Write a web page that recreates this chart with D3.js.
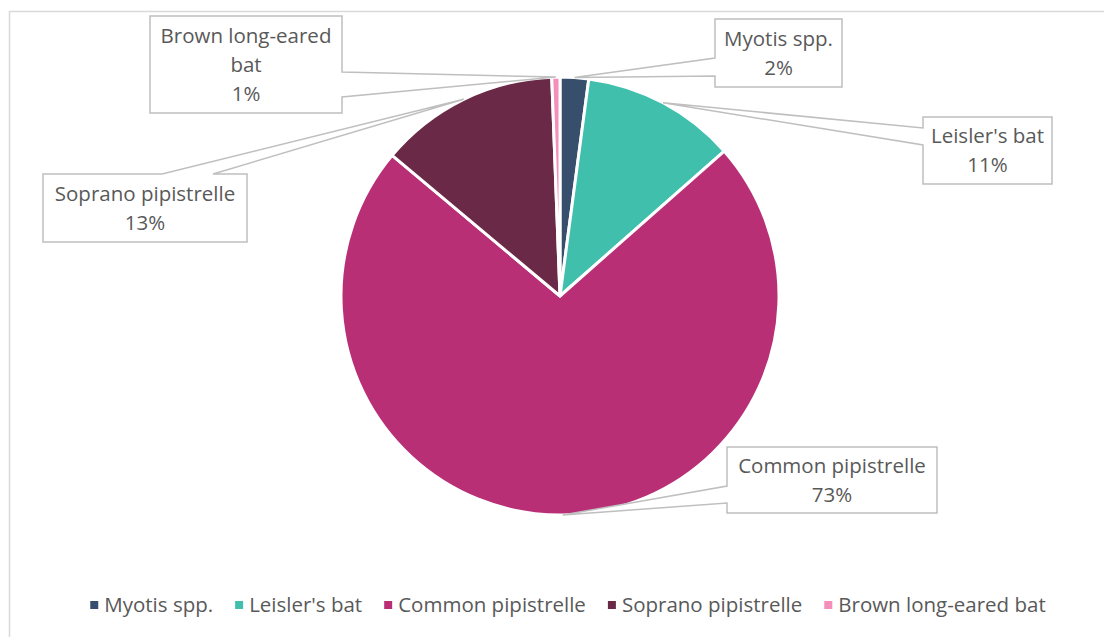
<!DOCTYPE html>
<html>
<head>
<meta charset="utf-8">
<script src="https://cdn.jsdelivr.net/npm/d3@7"></script>
<style>
  html, body { margin: 0; padding: 0; background: #fff; }
  svg { display: block; font-family: "Open Sans", "Noto Sans", sans-serif; }
</style>
</head>
<body>
<svg width="1104" height="637"></svg>
<script>
(() => {

    // species shares (percent of recorded passes)
    const species = ['Myotis spp.', "Leisler's bat", 'Common pipistrelle', 'Soprano pipistrelle', 'Brown long-eared bat'];
    const shares = [2.1, 11.4, 72.6, 13.3, 0.6];
    const colors = ['#374f6d', '#40bfad', '#b82f76', '#6a2a47', '#f38fba'];

    // callout boxes: [x, y, w, h], label split into lines
    const labelLines = [['Myotis spp.'], ["Leisler's bat"], ['Common pipistrelle'], ['Soprano pipistrelle'], ['Brown long-eared', 'bat']];
    const boxes = [
        {x: 715, y: 19, w: 127, h: 68, side: 'left', p: [58, 76]},
        {x: 923, y: 117, w: 129, h: 67, side: 'left', p: [128, 145]},
        {x: 727, y: 447, w: 210, h: 66, side: 'left', p: [486, 503]},
        {x: 43, y: 174, w: 204, h: 68, side: 'top', p: [162, 213]},
        {x: 150, y: 16, w: 192, h: 97, side: 'right', p: [72, 97]}
    ];

    const svg = d3.select('svg');
    const cx = 560, cy = 296, radius = 219;
    const textColor = '#595959';
    const fontSize = 20.5;

    svg.append('rect')
        .attr('x', 9.5).attr('y', 11.5)
        .attr('width', 1110).attr('height', 640)
        .attr('fill', 'none')
        .attr('stroke', '#d9d9d9')
        .attr('stroke-width', 1.5);

    const data = species.map((s, i) => ({name: s, value: shares[i], color: colors[i], i}));
    const total = d3.sum(shares);

    const pie = d3.pie().sort(null).value(d => d.value);
    const arcs = pie(data);
    const arc = d3.arc().innerRadius(0).outerRadius(radius);

    const g = svg.append('g').attr('transform', `translate(${cx},${cy})`);
    g.selectAll('path')
        .data(arcs)
        .enter().append('path')
        .attr('d', arc)
        .attr('fill', d => d.data.color)
        .attr('stroke', '#fff')
        .attr('stroke-width', 3)
        .attr('stroke-linejoin', 'round');

    // callouts with a pointer towards the slice's outer edge
    const callouts = svg.append('g');
    arcs.forEach((a, i) => {
        const b = boxes[i];
        const mid = (a.startAngle + a.endAngle) / 2;
        const tx = cx + radius * Math.sin(mid);
        const ty = cy - radius * Math.cos(mid);
        const x0 = b.x, y0 = b.y, x1 = b.x + b.w, y1 = b.y + b.h;
        let pts;
        if (b.side === 'left') {
            pts = [[x0, y0], [x1, y0], [x1, y1], [x0, y1], [x0, b.p[1]], [tx, ty], [x0, b.p[0]]];
        } else if (b.side === 'right') {
            pts = [[x0, y0], [x1, y0], [x1, b.p[0]], [tx, ty], [x1, b.p[1]], [x1, y1], [x0, y1]];
        } else {
            pts = [[x0, y0], [b.p[0], y0], [tx, ty], [b.p[1], y0], [x1, y0], [x1, y1], [x0, y1]];
        }
        callouts.append('path')
            .attr('d', d3.line()(pts) + 'Z')
            .attr('fill', '#fff')
            .attr('stroke', '#bfbfbf')
            .attr('stroke-width', 1.5)
            .attr('stroke-linejoin', 'miter');

        const lines = labelLines[i].concat([Math.round(a.data.value / total * 100) + '%']);
        const lh = 29;
        const startY = (y0 + y1) / 2 - (lines.length - 1) * lh / 2;
        const t = callouts.append('text')
            .attr('text-anchor', 'middle')
            .attr('fill', textColor)
            .attr('font-size', fontSize);
        lines.forEach((l, k) => {
            t.append('tspan')
                .attr('x', (x0 + x1) / 2)
                .attr('y', startY + k * lh)
                .attr('dy', '0.35em')
                .text(l);
        });
    });

    // legend
    const legend = svg.append('g');
    const items = legend.selectAll('g')
        .data(data)
        .enter().append('g');
    items.append('rect')
        .attr('width', 8).attr('height', 8)
        .attr('y', -4)
        .attr('fill', d => d.color);
    items.append('text')
        .attr('x', 14)
        .attr('dy', '0.35em')
        .attr('fill', textColor)
        .attr('font-size', fontSize)
        .text(d => d.name);

    let x = 0;
    items.each(function () {
        const it = d3.select(this);
        it.attr('transform', `translate(${x},0)`);
        x += 14 + it.select('text').node().getComputedTextLength() + 22;
    });
    const legendW = x - 22;
    legend.attr('transform', `translate(${568 - legendW / 2},605)`);

})();
</script>
</body>
</html>
